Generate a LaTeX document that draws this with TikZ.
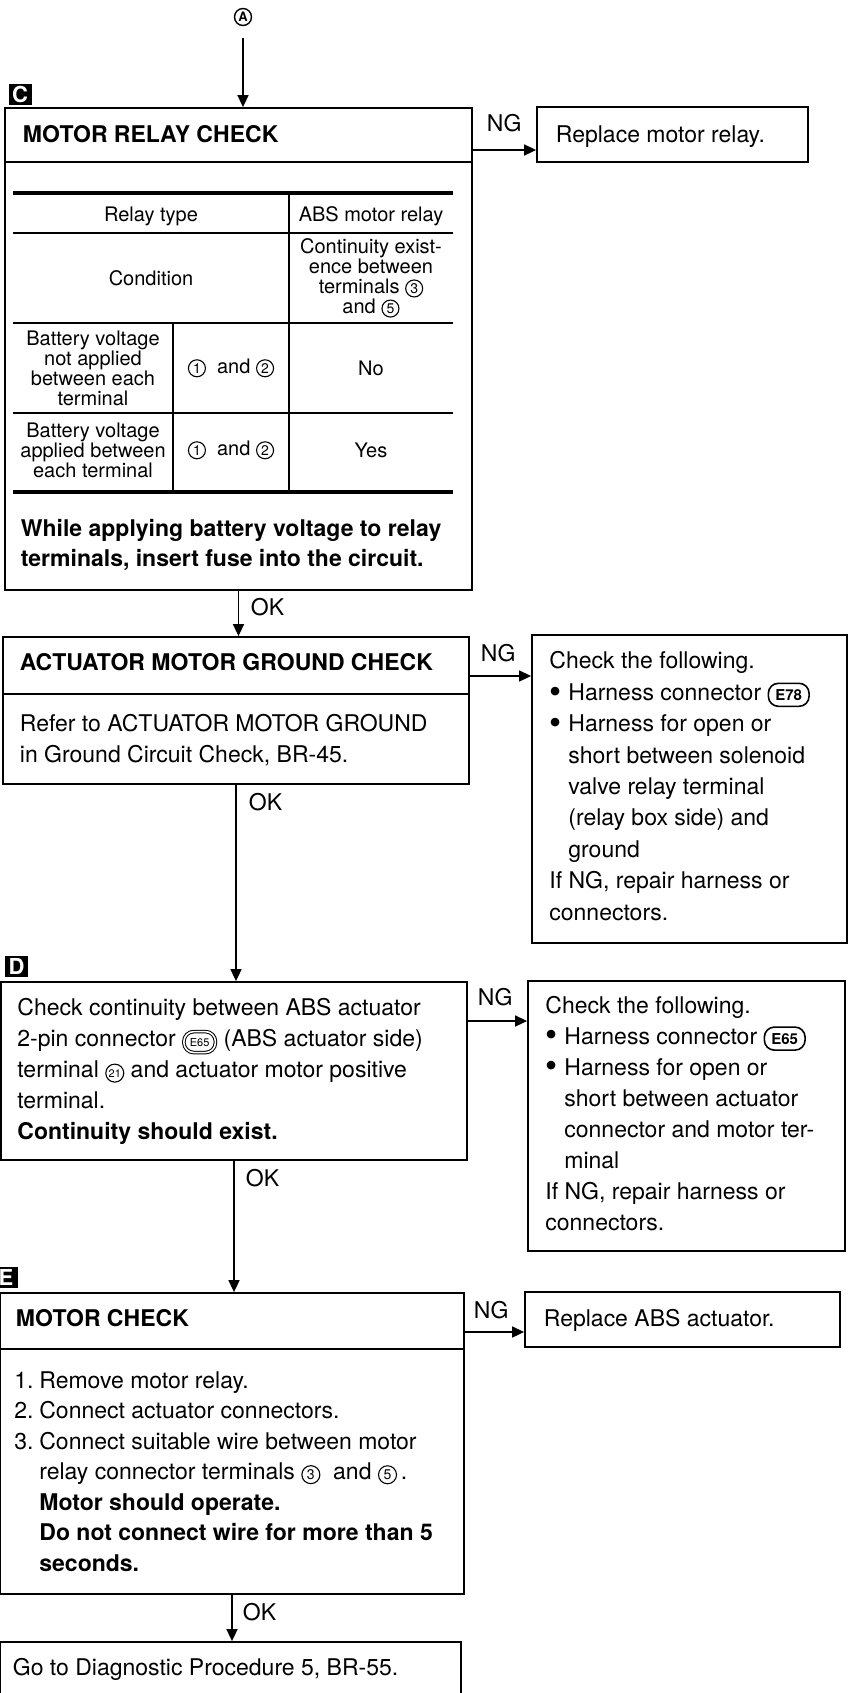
\documentclass[tikz,border=0pt]{standalone}
\usepackage{fontspec}
\setmainfont{TeX Gyre Heros}
\usetikzlibrary{arrows.meta,fit}
\newcommand{\cnum}[2][9pt]{\tikz[baseline=(cn.base)]\node[circle,draw,line width=0.55pt,inner sep=0pt,minimum size=#1,font=\fontsize{7}{7}\selectfont] (cn) {#2};}
\newcommand{\conn}[1]{\tikz[baseline=(cn.base)]\node[draw,line width=0.8pt,rounded corners=5pt,inner xsep=3.5pt,inner ysep=0pt,minimum height=11.5pt,font=\bfseries\fontsize{7.5}{7.5}\selectfont] (cn) {#1};}
\newcommand{\conndbl}[1]{\tikz[baseline=(cn.base)]\node[draw,double,double distance=0.8pt,line width=0.5pt,rounded corners=5pt,inner xsep=3pt,inner ysep=0pt,minimum height=10.5pt,font=\fontsize{5.5}{5.5}\selectfont] (cn) {#1};}
\newcommand{\bul}{\makebox[9.5pt][l]{\raisebox{-1.45pt}{\scalebox{1.5}{\textbullet}}}}

\begin{document}
\begin{tikzpicture}[x=0.5pt,y=-0.5pt,line width=0.9pt,
    box/.style={draw,inner sep=0pt},
    txt/.style={anchor=base west,align=left,inner sep=0pt,font=\fontsize{11.5}{15.5}\selectfont},
    head/.style={txt,font=\bfseries\fontsize{11.5}{15.5}\selectfont},
    tab/.style={align=center,inner sep=0pt,font=\fontsize{10}{10}\selectfont},
    arr/.style={-{Triangle[length=6pt,width=5.5pt]},line width=0.8pt},
    tag/.style={fill=black,text=white,inner sep=0pt,minimum width=11.5pt,minimum height=10.5pt,font=\bfseries\fontsize{11}{11}\selectfont}]
  \useasboundingbox (0,0) rectangle (857,1693);

  \node[circle,draw,line width=0.7pt,inner sep=0pt,minimum size=8.5pt,font=\bfseries\fontsize{6.5}{6.5}\selectfont] (A) at (243,17) {A};

  % C (multi-line texts sit on the baseline of their last line)
  \node[tag] (tagC) at (20,94) {C};
  \node[box,fit={(5,108) (472,590)}] (relay) {};
  \draw (5,162) -- (472,162);
  \node[head] (relayT) at (22,142) {MOTOR RELAY CHECK};
  \draw[line width=2pt] (13,193) -- (453,193);
  \draw (13,233) -- (453,233);
  \draw (13,323) -- (453,323);
  \draw (13,413) -- (453,413);
  \draw[line width=2pt] (13,492) -- (453,492);
  \draw (289,193) -- (289,492);
  \draw (173,323) -- (173,492);
  \node[tab] (tRelay) at (151,216) {Relay type};
  \node[tab] (tAbs) at (371,216) {ABS motor relay};
  \node[tab] (tCond) at (151,278) {Condition};
  \node[tab] (tCont) at (371,278) {Continuity exist-\\ence between\\terminals \cnum[8.5pt]{3}\\and \cnum[8.5pt]{5}};
  \node[tab] (tOff) at (93,368) {Battery voltage\\not applied\\between each\\terminal};
  \node[tab] (tOffT) at (231,368) {\cnum[8.5pt]{1}\ \ and \cnum[8.5pt]{2}};
  \node[tab] (tNo) at (371,368) {No};
  \node[tab] (tOn) at (93,450) {Battery voltage\\applied between\\each terminal};
  \node[tab] (tOnT) at (231,450) {\cnum[8.5pt]{1}\ \ and \cnum[8.5pt]{2}};
  \node[tab] (tYes) at (371,450) {Yes};
  \node[txt,font=\bfseries\fontsize{11.5}{15}\selectfont] (relayN) at (20,566) {While applying battery voltage to relay\\terminals, insert fuse into the circuit.};

  \node[box,fit={(537,107) (808,162)}] (rep0) {};
  \node[txt] (rep0T) at (555,142) {Replace motor relay.};
  \coordinate (ngC) at (0,150);
  \draw[arr] (relay.east |- ngC) -- (rep0.west |- ngC);
  \node[txt] (ngCT) at (486,131) {NG};
  \draw[arr,shorten <=6pt] (A.south) -- (A.south |- relay.north);

  % actuator motor ground
  \node[box,fit={(3,637) (469,784)}] (act) {};
  \draw (3,694) -- (469,694);
  \node[head] (actT) at (19,670) {ACTUATOR MOTOR GROUND CHECK};
  \node[txt] (actB) at (19,762) {Refer to ACTUATOR MOTOR GROUND\\in Ground Circuit Check, BR-45.};
  \draw[arr] (relay.south) -- (relay.south |- act.north);
  \node[txt] (okC) at (250,615) {OK};

  \node[box,fit={(532,635) (847,943)}] (chk1) {};
  \node[txt,font=\fontsize{11.5}{15.7}\selectfont] (chk1T) at (549,920) {Check the following.\\
    \bul Harness connector \conn{E78}\\
    \bul Harness for open or\\
    \hspace*{9.5pt}short between solenoid\\
    \hspace*{9.5pt}valve relay terminal\\
    \hspace*{9.5pt}(relay box side) and\\
    \hspace*{9.5pt}ground\\
    If NG, repair harness or\\
    connectors.};
  \coordinate (ngA) at (0,676);
  \draw[arr] (act.east |- ngA) -- (chk1.west |- ngA);
  \node[txt] (ngAT) at (480,661) {NG};

  % D
  \node[tag] (tagD) at (16.5,966) {D};
  \node[box,fit={(1,982) (467,1160)}] (cont) {};
  \node[txt] (contT) at (17,1139) {Check continuity between ABS actuator\\
    2-pin connector \conndbl{E65} (ABS actuator side)\\
    terminal \cnum[9pt]{\fontsize{5.5}{5.5}\selectfont 21} and actuator motor positive\\
    terminal.\\
    \textbf{Continuity should exist.}};
  \draw[arr] (act.south) -- (act.south |- cont.north);
  \node[txt] (okA) at (248,810) {OK};

  \node[box,fit={(528,981) (845,1251)}] (chk2) {};
  \node[txt] (chk2T) at (545,1230) {Check the following.\\
    \bul Harness connector \conn{E65}\\
    \bul Harness for open or\\
    \hspace*{9.5pt}short between actuator\\
    \hspace*{9.5pt}connector and motor ter-\\
    \hspace*{9.5pt}minal\\
    If NG, repair harness or\\
    connectors.};
  \coordinate (ngD) at (0,1021);
  \draw[arr] (cont.east |- ngD) -- (chk2.west |- ngD);
  \node[txt] (ngDT) at (477,1005) {NG};

  % E
  \node[tag] (tagE) at (6,1277) {E};
  \node[box,fit={(0,1293) (464,1594)}] (motor) {};
  \draw (0,1349) -- (464,1349);
  \node[head] (motorT) at (15,1326) {MOTOR CHECK};
  \node[txt,font=\fontsize{11.5}{15.25}\selectfont] (motorB) at (14,1571) {\makebox[12.5pt][l]{1.}Remove motor relay.\\
    \makebox[12.5pt][l]{2.}Connect actuator connectors.\\
    \makebox[12.5pt][l]{3.}Connect suitable wire between motor\\
    \hspace*{12.5pt}relay connector terminals \cnum{3}\ \ and \cnum{5}\,.\\
    \hspace*{12.5pt}\textbf{Motor should operate.}\\
    \hspace*{12.5pt}\textbf{Do not connect wire for more than 5}\\
    \hspace*{12.5pt}\textbf{seconds.}};
  \draw[arr] (cont.south) -- (cont.south |- motor.north);
  \node[txt] (okD) at (245,1186) {OK};

  \node[box,fit={(525,1292) (840,1347)}] (rep1) {};
  \node[txt] (rep1T) at (543,1326) {Replace ABS actuator.};
  \coordinate (ngE) at (0,1332);
  \draw[arr] (motor.east |- ngE) -- (rep1.west |- ngE);
  \node[txt] (ngET) at (473,1318) {NG};

  \node[box,fit={(0,1642) (461,1720)}] (proc) {};
  \node[txt] (procT) at (12,1675) {Go to Diagnostic Procedure 5, BR-55.};
  \draw[arr] (motor.south) -- (motor.south |- proc.north);
  \node[txt] (okE) at (242,1620) {OK};
\end{tikzpicture}
\end{document}
